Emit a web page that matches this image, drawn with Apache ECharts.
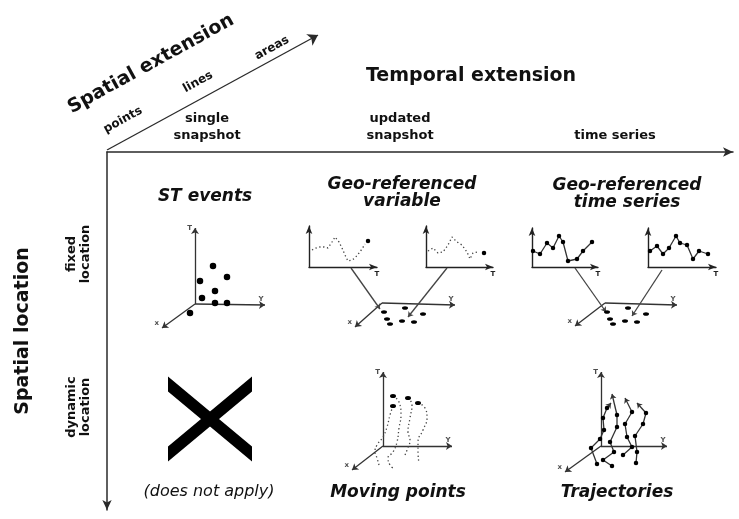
<!DOCTYPE html>
<html>
<head>
<meta charset="utf-8">
<script src="https://cdn.jsdelivr.net/npm/echarts@6/dist/echarts.min.js"></script>
<style>
  html, body { margin: 0; padding: 0; background: #fff; }
  #chart { width: 739px; height: 519px; }
</style>
</head>
<body>
<div id="chart"></div>
<script>
const FONT = 'DejaVu Sans';

// frame categories (positions along the frame axes, px from the origin)
const columnNames = ['single\nsnapshot', 'updated\nsnapshot', 'time series'];
const columnPos = [100, 293, 508];
const rowNames = ['fixed\nlocation', 'dynamic\nlocation'];
const rowPos = [102, 255];
const extentNames = ['points', 'lines', 'areas'];

// ST events panel: origin, T / Y / x axis tips, events
const stOrigin = [55, 36];
const stTips = [[55, 112], [125, 35], [22, 12]];
const stEvents = [[73, 74], [87, 63], [60, 59], [75, 49], [62, 42], [75, 37], [87, 37], [50, 27]];

// geo-referenced variable: two sensors, dotted history + current value
const varPathA = [[3, 17], [7, 19], [11, 20], [15, 20], [19, 19], [23, 25], [26, 30], [30, 25], [33, 19], [36, 12], [39, 6], [43, 7], [46, 9], [50, 14], [53, 18], [56, 23]];
const varNowA = [59, 26];
const varPathB = [[2, 16], [7, 19], [12, 14], [17, 15], [22, 22], [26, 30], [31, 25], [36, 22], [41, 15], [44, 8], [47, 14], [52, 15]];
const varNowB = [58, 14];
const varOrigin = [92, 32];
const varTips = [[165, 30], [65, 8]];
const varSites = [[94, 23], [115, 27], [133, 21], [97, 16], [112, 14], [124, 13], [100, 11]];
const varLinks = [[[61, 67], [90, 26]], [[157, 67], [118, 18]]];

// geo-referenced time series
const seriesA = [[1, 16], [8, 13], [15, 24], [21, 19], [27, 31], [31, 25], [36, 6], [45, 8], [51, 16], [60, 25]];
const seriesB = [[2, 16], [9, 21], [15, 13], [21, 19], [28, 31], [32, 24], [39, 22], [45, 8], [51, 16], [60, 13]];
const tsOrigin = [90, 32];
const tsTips = [[162, 30], [60, 9]];
const tsSites = [[92, 23], [113, 27], [131, 21], [95, 16], [110, 14], [122, 13], [98, 11]];
const tsLinks = [[[60, 67], [91, 23]], [[147, 65], [117, 19]]];

// moving points
const mvOrigin = [53, 34];
const mvTips = [[53, 108], [122, 34], [22, 10]];
const movingTracks = [
  [[63, 74], [60, 65], [57, 53], [53, 43], [47, 35], [45, 28], [47, 22], [49, 15]],
  [[63, 84], [69, 78], [71, 65], [69, 52], [67, 38], [63, 28], [58, 22], [60, 15], [63, 12]],
  [[78, 82], [82, 75], [80, 62], [78, 48], [80, 40], [77, 30], [75, 25]],
  [[88, 77], [95, 72], [97, 62], [93, 50], [88, 38], [88, 28], [89, 17]]
];

// trajectories
const trOrigin = [51, 34];
const trTips = [[51, 108], [117, 34], [15, 8]];
const trajectories = [
  [[47, 16], [41, 32], [50, 41], [54, 50], [53, 62], [57, 72]],
  [[62, 14], [53, 20], [64, 28], [60, 38], [67, 53], [67, 65]],
  [[73, 25], [82, 33], [77, 43], [75, 56], [82, 68]],
  [[86, 17], [87, 28], [85, 44], [93, 56], [96, 67]]
];
const trajectoryHeads = [[61, 77], [62, 86], [75, 82], [87, 77]];

// the "does not apply" cell: [column, row]
const notApplicable = [0, 1];

const chart = echarts.init(document.getElementById('chart'));

const grids = [
  { left: 107, top: 152, width: 626, height: 358 }, // 0 frame
  { left: 140, top: 220, width: 140, height: 120 }, // 1 ST events
  { left: 290, top: 215, width: 220, height: 120 }, // 2 geo variable
  { left: 515, top: 215, width: 220, height: 120 }, // 3 geo time series
  { left: 330, top: 360, width: 140, height: 120 }, // 4 moving points
  { left: 550, top: 360, width: 140, height: 120 }, // 5 trajectories
  { left: 309, top: 226, width: 68, height: 41 },   // 6 var sensor A
  { left: 426, top: 226, width: 67, height: 41 },   // 7 var sensor B
  { left: 532, top: 228, width: 66, height: 39 },   // 8 ts sensor A
  { left: 648, top: 228, width: 68, height: 39 }    // 9 ts sensor B
].map(g => Object.assign({ containLabel: false, outerBoundsMode: 'none' }, g));

const hidden = (gi, max) => ({ gridIndex: gi, type: 'value', min: 0, max: max, show: false });

function miniAxis(gi, max, name) {
  return {
    gridIndex: gi, type: 'value', min: 0, max: max,
    axisLine: { show: true, onZero: false, symbol: ['none', 'arrow'], symbolSize: [5, 8], lineStyle: { color: '#222', width: 1.4 } },
    axisTick: { show: false }, axisLabel: { show: false }, splitLine: { show: false },
    name: name || '', nameLocation: 'end', nameGap: 0,
    nameTextStyle: { fontSize: 7, fontWeight: 'bold', color: '#222', align: 'center', verticalAlign: 'top', padding: [4, 0, 0, 0] }
  };
}

const frameLine = { color: '#2a2a2a', width: 1.5 };

const xAxis = [
  {
    gridIndex: 0, type: 'value', min: 0, max: 626, position: 'top',
    axisLine: { show: true, onZero: false, symbol: ['none', 'arrow'], symbolSize: [7, 10], lineStyle: frameLine },
    axisTick: { show: false }, splitLine: { show: false },
    axisLabel: {
      customValues: columnPos, margin: 8, fontSize: 13, fontWeight: 'bold', lineHeight: 17, color: '#111',
      formatter: v => columnNames[columnPos.indexOf(v)]
    },
    name: 'Temporal extension', nameLocation: 'middle', nameGap: 66,
    nameTextStyle: { fontSize: 19, fontWeight: 'bold', color: '#111', padding: [0, 0, 0, 102] }
  },
  hidden(1, 140), hidden(2, 220), hidden(3, 220), hidden(4, 140), hidden(5, 140),
  miniAxis(6, 68, 'T'), miniAxis(7, 67, 'T'), miniAxis(8, 66, 'T'), miniAxis(9, 68, 'T')
];

const yAxis = [
  {
    gridIndex: 0, type: 'value', min: 0, max: 358, inverse: true,
    axisLine: { show: true, onZero: false, symbol: ['arrow', 'none'], symbolSize: [7, 10], lineStyle: frameLine },
    axisTick: { show: false }, splitLine: { show: false },
    axisLabel: {
      customValues: rowPos, rotate: 90, margin: 14, fontSize: 13, fontWeight: 'bold', lineHeight: 14, color: '#111',
      formatter: v => rowNames[rowPos.indexOf(v)]
    },
    name: 'Spatial location', nameLocation: 'middle', nameGap: 74,
    nameTextStyle: { fontSize: 19, fontWeight: 'bold', color: '#111' }
  },
  hidden(1, 120), hidden(2, 120), hidden(3, 120), hidden(4, 120), hidden(5, 120),
  miniAxis(6, 41), miniAxis(7, 41), miniAxis(8, 39), miniAxis(9, 39)
];

const TAG = {
  T: { position: 'left', distance: 3 },
  Y: { position: 'top', distance: 2, offset: [-4, 0] },
  x: { position: 'left', distance: 3, offset: [0, -5] }
};

function arrows(gi, segments, color, size) {
  return {
    type: 'lines', coordinateSystem: 'cartesian2d', xAxisIndex: gi, yAxisIndex: gi,
    silent: true, z: 3, symbol: ['none', 'arrow'], symbolSize: size,
    lineStyle: { color: color, width: 1.3, opacity: 1, curveness: 0 },
    data: segments.map(s => ({ coords: s }))
  };
}

function axes3d(gi, origin, tips, names) {
  return [
    arrows(gi, tips.map(t => [origin, t]), '#333', 6),
    {
      type: 'scatter', xAxisIndex: gi, yAxisIndex: gi, silent: true, symbolSize: 0,
      label: { show: true, formatter: '{b}', fontSize: 7, fontWeight: 'bold', color: '#222' },
      data: tips.map((t, i) => ({ name: names[i], value: t, label: TAG[names[i]] }))
    }
  ];
}

const dots = (gi, data, size, color) => ({
  type: 'scatter', xAxisIndex: gi, yAxisIndex: gi, silent: true, z: 4,
  symbol: 'circle', symbolSize: size, itemStyle: { color: color || '#000', opacity: 1 }, data: data
});

const dotted = (gi, data, smooth) => ({
  type: 'line', xAxisIndex: gi, yAxisIndex: gi, silent: true, showSymbol: false, smooth: smooth || false,
  lineStyle: { color: '#444', width: 1.3, type: [1.3, 2.6] }, data: data
});

const solid = (gi, data) => ({
  type: 'line', xAxisIndex: gi, yAxisIndex: gi, silent: true, symbol: 'circle', symbolSize: 4.5, showSymbol: true,
  itemStyle: { color: '#000', opacity: 1 }, lineStyle: { color: '#333', width: 1.3 }, data: data
});

const series = [
  // "does not apply" cross
  {
    type: 'scatter', xAxisIndex: 0, yAxisIndex: 0, silent: true,
    symbol: 'path://M0 0L84 70L84 85L0 15ZM84 0L84 15L0 85L0 70Z',
    symbolSize: [84, 85], symbolOffset: [3, 12], itemStyle: { color: '#000', opacity: 1 },
    data: [[columnPos[notApplicable[0]], rowPos[notApplicable[1]]]]
  },
  // ST events
  ...axes3d(1, stOrigin, stTips, ['T', 'Y', 'x']),
  dots(1, stEvents, 6.5),
  // geo-referenced variable
  ...axes3d(2, varOrigin, varTips, ['Y', 'x']),
  dots(2, varSites, [6, 3.5]),
  arrows(2, varLinks, '#444', 5),
  dotted(6, varPathA), dots(6, [varNowA], 4.5),
  dotted(7, varPathB), dots(7, [varNowB], 4.5),
  // geo-referenced time series
  ...axes3d(3, tsOrigin, tsTips, ['Y', 'x']),
  dots(3, tsSites, [6, 3.5]),
  arrows(3, tsLinks, '#444', 5),
  solid(8, seriesA), solid(9, seriesB),
  // moving points
  ...axes3d(4, mvOrigin, mvTips, ['T', 'Y', 'x']),
  ...movingTracks.map(t => dotted(4, t, 0.5)),
  dots(4, movingTracks.map(t => t[0]), [6, 4]),
  // trajectories
  ...axes3d(5, trOrigin, trTips, ['T', 'Y', 'x']),
  ...trajectories.map(t => solid(5, t)),
  arrows(5, trajectories.map((t, i) => [t[t.length - 1], trajectoryHeads[i]]), '#333', 5)
];

const txt = (text, x, y, size, weight, style, rot, lh) => ({
  type: 'text', x: x, y: y, rotation: rot || 0, silent: true,
  style: {
    text: text, fontFamily: FONT, fontSize: size, fontWeight: weight, fontStyle: style || 'normal',
    lineHeight: lh || size + 1, fill: '#111', align: 'center', verticalAlign: 'middle'
  }
});

const tilt = 0.505;
const extentLabelPos = [[123, 120], [198, 82], [272, 48]];

const graphic = [
  txt('Spatial extension', 151, 64, 19, 'bold', 'normal', tilt),
  ...extentNames.map((n, i) => txt(n, extentLabelPos[i][0], extentLabelPos[i][1], 12, 'bold', 'normal', tilt)),
  txt('ST events', 205, 197, 17, 'bold', 'italic'),
  txt('Geo-referenced\nvariable', 402, 193, 17, 'bold', 'italic', 0, 17),
  txt('Geo-referenced\ntime series', 627, 194, 17, 'bold', 'italic', 0, 17),
  txt('(does not apply)', 209, 492, 16, 'normal', 'italic'),
  txt('Moving points', 398, 493, 17, 'bold', 'italic'),
  txt('Trajectories', 617, 493, 17, 'bold', 'italic')
];

// spatial extension axis: from the frame origin up to the right
const extentGrid = { left: 107, top: 35, width: 211, height: 115, containLabel: false, outerBoundsMode: 'none' };
grids.push(extentGrid);
xAxis.push(hidden(10, 1));
yAxis.push(hidden(10, 1));
series.push(arrows(10, [[[0, 0], [1, 1]]], '#2a2a2a', [7, 10]));

chart.setOption({
  animation: false,
  backgroundColor: '#fff',
  textStyle: { fontFamily: FONT },
  grid: grids,
  xAxis: xAxis,
  yAxis: yAxis,
  graphic: graphic,
  series: series
});
</script>
</body>
</html>
